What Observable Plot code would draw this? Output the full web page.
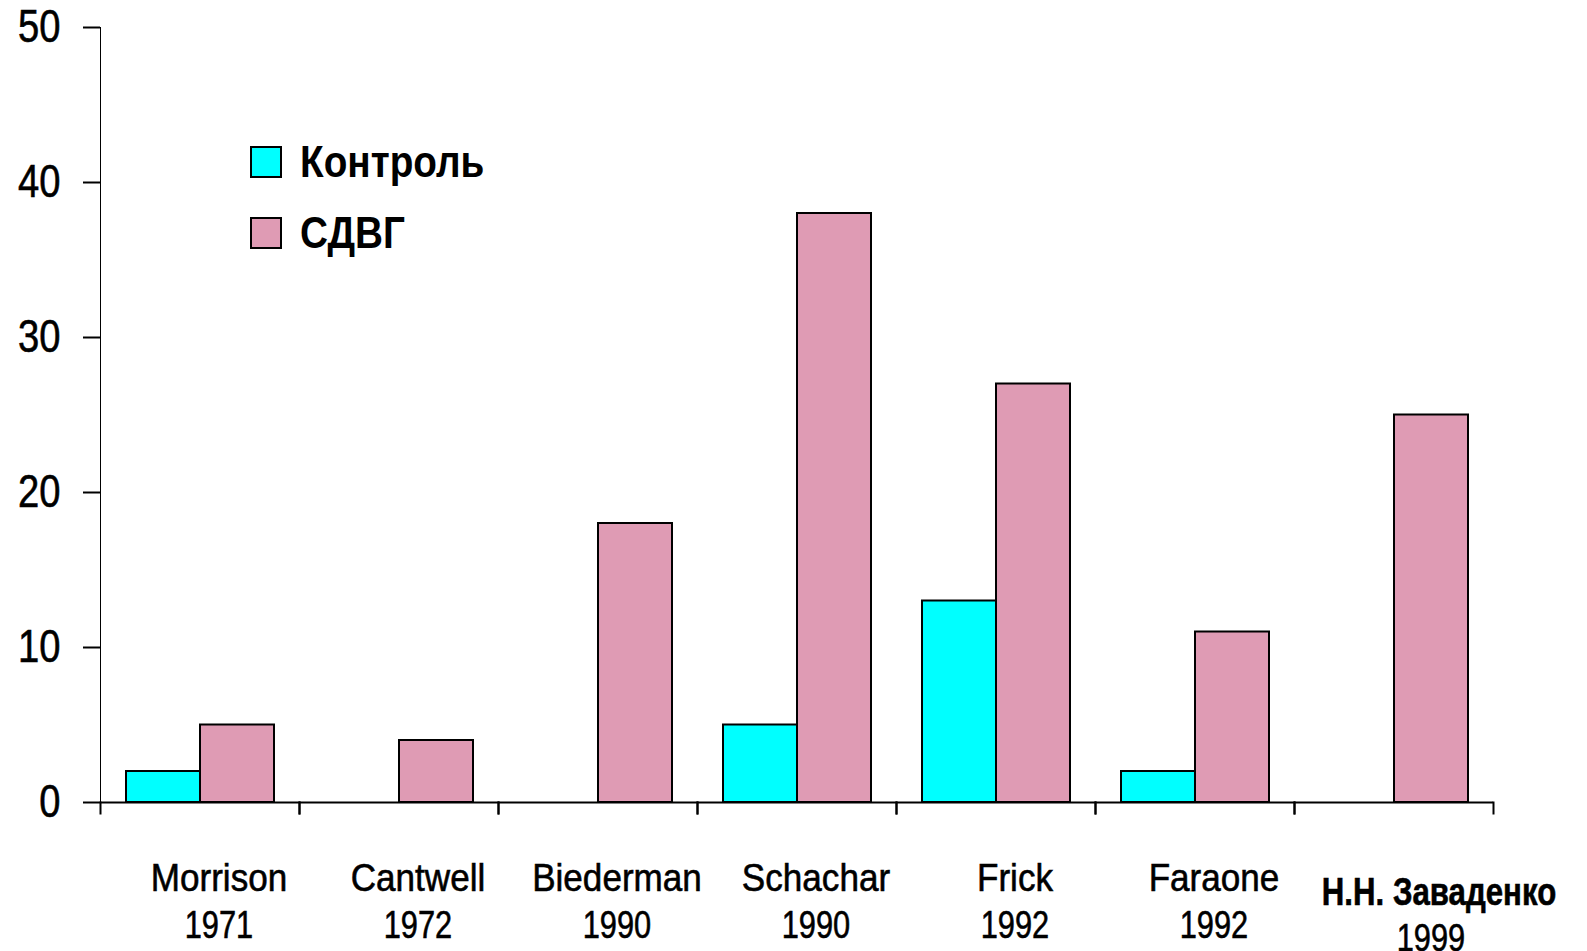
<!DOCTYPE html>
<html>
<head>
<meta charset="utf-8">
<script src="https://cdn.jsdelivr.net/npm/d3@7"></script>
<script src="https://cdn.jsdelivr.net/npm/@observablehq/plot@0.6"></script>
<style>
  html, body { margin: 0; padding: 0; background: #fff; }
  #wrap { position: relative; width: 1587px; height: 951px; overflow: hidden;
          font-family: "Liberation Sans", Arial, sans-serif; }
  #wrap svg [aria-label^="y-axis"] { stroke-width: 2px; }
  #wrap svg text { stroke: #000; stroke-width: 0.6px; }
  .legend { position: absolute; left: 250px; top: 126px; }
  .legend .row { display: flex; align-items: center; height: 71px; font-weight: bold; font-size: 44px; color: #000; }
  .legend .sw { width: 28px; height: 28px; border: 2px solid #000; margin-right: 18px; flex: none; }
  .legend .lbl { display: inline-block; transform: scaleX(0.88); transform-origin: left center; white-space: nowrap; }
</style>
</head>
<body>
<div id="wrap"></div>
<script>
const studies = ["Morrison", "Cantwell", "Biederman", "Schachar", "Frick", "Faraone", "Н.Н. Заваденко"];
const years = ["1971", "1972", "1990", "1990", "1992", "1992", "1999"];
const series = ["Контроль", "СДВГ"];
const controlValues = [2, null, null, 5, 13, 2, null];
const adhdValues = [5, 4, 18, 38, 27, 11, 25];
const seriesColors = ["#00ffff", "#df9bb4"];
const yTicks = [0, 10, 20, 30, 40, 50];
const ownStudy = "Н.Н. Заваденко";

const bars = studies.flatMap((s, i) => [
  {study: s, series: series[0], value: controlValues[i]},
  {study: s, series: series[1], value: adhdValues[i]}
]).filter(d => d.value != null);
const labels = studies.map((s, i) => ({study: s, year: years[i]}));
const otherLabels = labels.filter(d => d.study !== ownStudy);
const ownLabels = labels.filter(d => d.study === ownStudy);

const W = 1587, H = 951, mL = 99, mR = 93, mT = 27, mB = 149;
const plotH = H - mT - mB;
const font = '"Liberation Sans", Arial, sans-serif';

const chart = Plot.plot({
  width: W, height: H,
  marginLeft: mL, marginRight: mR, marginTop: mT, marginBottom: mB,
  style: {fontFamily: font, fontSize: "46px", color: "#000", background: "transparent", overflow: "visible"},
  fx: {domain: studies, padding: 0, axis: null},
  x: {domain: series, paddingInner: 0, paddingOuter: 0.33, axis: null},
  y: {domain: [0, 50], ticks: yTicks, tickSize: 17, tickPadding: 23, label: null, line: true},
  color: {domain: series, range: seriesColors},
  marks: [
    Plot.frame({anchor: "left", insetTop: plotH, insetBottom: -11, stroke: "#000", strokeWidth: 2}),
    Plot.frame({anchor: "right", insetTop: plotH, insetBottom: -11, stroke: "#000", strokeWidth: 2}),
    Plot.barY(bars, {fx: "study", x: "series", y: "value", fill: "series", stroke: "#000", strokeWidth: 2, inset: 0}),
    Plot.ruleY([0], {stroke: "#000", strokeWidth: 2}),
    Plot.text(otherLabels, {fx: "study", text: "study", frameAnchor: "bottom", dy: 88, dx: 19, fontSize: 39, ariaDescription: "names"}),
    Plot.text(otherLabels, {fx: "study", text: "year", frameAnchor: "bottom", dy: 135, dx: 19, fontSize: 39, ariaDescription: "years"}),
    Plot.text(ownLabels, {fx: "study", text: "study", frameAnchor: "bottom", dy: 102, dx: 45, fontSize: 39, fontWeight: "bold", ariaDescription: "ownname"}),
    Plot.text(ownLabels, {fx: "study", text: "year", frameAnchor: "bottom", dy: 148, dx: 37, fontSize: 39, ariaDescription: "ownyear"})
  ]
});

const wrap = document.getElementById("wrap");
wrap.appendChild(chart);

// emulate the narrow typeface of the original
function condense(selection, factor) {
  selection.each(function() {
    const len = this.getComputedTextLength();
    if (len > 0) {
      this.setAttribute("textLength", (len * factor).toFixed(1));
      this.setAttribute("lengthAdjust", "spacingAndGlyphs");
    }
  });
}
const svg = d3.select(chart);
condense(svg.selectAll('[aria-label="y-axis tick label"] text'), 0.83);
condense(svg.selectAll('[aria-description="names"] text'), 0.9);
condense(svg.selectAll('[aria-description="years"] text'), 0.79);
condense(svg.selectAll('[aria-description="ownname"] text'), 0.8);
condense(svg.selectAll('[aria-description="ownyear"] text'), 0.79);

const legend = d3.select(wrap).append("div").attr("class", "legend");
series.forEach((s, i) => {
  const row = legend.append("div").attr("class", "row");
  row.append("span").attr("class", "sw").style("background", seriesColors[i]);
  row.append("span").attr("class", "lbl").text(s);
});
</script>
</body>
</html>
